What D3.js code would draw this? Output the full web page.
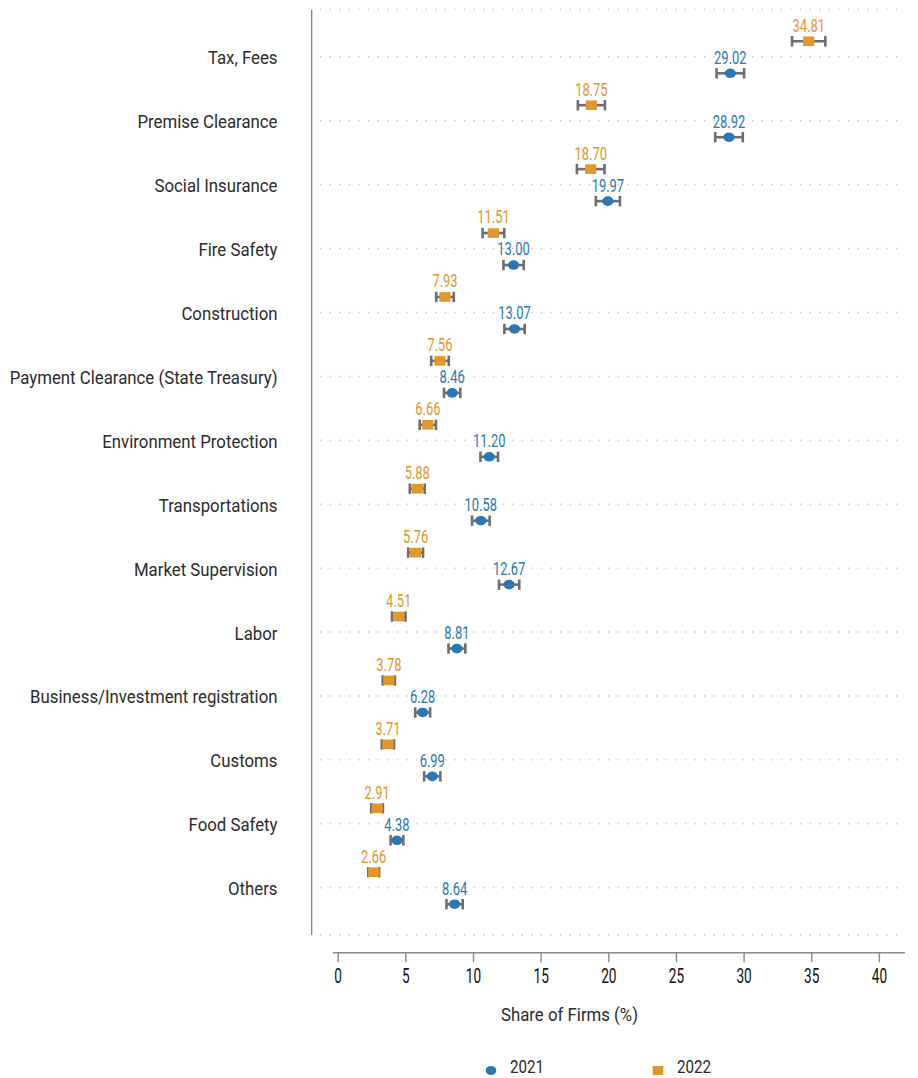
<!DOCTYPE html>
<html>
<head>
<meta charset="utf-8">
<script src="https://cdn.jsdelivr.net/npm/d3@7"></script>
<style>
  html, body { margin: 0; padding: 0; background: #fff; }
  svg { display: block; }
  text { font-family: Roboto, "Liberation Sans", sans-serif; }
</style>
</head>
<body>
<svg id="chart" width="918" height="1078"></svg>
<script>
// Categories of administrative procedures, top to bottom
const categories = [
  "Tax, Fees", "Premise Clearance", "Social Insurance", "Fire Safety",
  "Construction", "Payment Clearance (State Treasury)", "Environment Protection",
  "Transportations", "Market Supervision", "Labor",
  "Business/Investment registration", "Customs", "Food Safety", "Others"
];

// Share of firms (%) per year
const values2021 = [29.02, 28.92, 19.97, 13.00, 13.07, 8.46, 11.20, 10.58, 12.67, 8.81, 6.28, 6.99, 4.38, 8.64];
const values2022 = [34.81, 18.75, 18.70, 11.51, 7.93, 7.56, 6.66, 5.88, 5.76, 4.51, 3.78, 3.71, 2.91, 2.66];

// Half-width of the confidence interval (percentage points)
const moe2021 = [1.02, 1.02, 0.89, 0.75, 0.75, 0.60, 0.65, 0.65, 0.75, 0.62, 0.55, 0.60, 0.47, 0.60];
const moe2022 = [1.23, 1.00, 1.02, 0.80, 0.65, 0.65, 0.60, 0.55, 0.55, 0.50, 0.45, 0.45, 0.43, 0.40];

const xTicks = [0, 5, 10, 15, 20, 25, 30, 35, 40];
const years = ["2021", "2022"];

const colors = { "2021": "#2a78b3", "2022": "#e2972d" };
const errColor = "#6e6e6e";
const fontSize = 18.5;

const svg = d3.select("#chart");

// Horizontal squeeze giving the narrow typeface look
const probe = svg.append("text").attr("font-size", fontSize).text("Payment Clearance (State Treasury)");
const squeeze = 268 / probe.node().getComputedTextLength();
probe.remove();
const numSqueeze = 0.70;     // figures are narrower still
const legendSqueeze = 0.80;

function narrow(sel, tx, ty, s) {
  const k = s || squeeze;
  sel.attr("x", 0).attr("y", 0)
    .attr("transform", (d, i) => `translate(${typeof tx === "function" ? tx(d, i) : tx},${typeof ty === "function" ? ty(d, i) : ty}) scale(${k},1)`);
  return sel;
}

const x = d3.scaleLinear().domain([0, 40]).range([337.7, 878.9]);
const y = d3.scalePoint().domain(categories).range([9.5, 935]).padding(0.74);

const offsets = { "2021": 16.5, "2022": -15.5 };

// Left vertical axis line
svg.append("line")
  .attr("x1", 311.7).attr("x2", 311.7)
  .attr("y1", 9.5).attr("y2", 935)
  .attr("stroke", "#777").attr("stroke-width", 1.2);

// Dotted horizontal gridlines at each category plus the frame ends
const gridYs = [9.5].concat(categories.map(c => y(c))).concat([935]);
svg.append("g").selectAll("line").data(gridYs).join("line")
  .attr("x1", 320).attr("x2", 905)
  .attr("y1", d => d).attr("y2", d => d)
  .attr("stroke", "#c8c8c8").attr("stroke-width", 1.4)
  .attr("stroke-dasharray", "1.4,8.2");

// Category labels
svg.append("g").selectAll("text").data(categories).join("text")
  .attr("text-anchor", "end")
  .attr("font-size", fontSize)
  .attr("fill", "#2b2b2b")
  .text(d => d)
  .call(narrow, 277.5, d => y(d) + 7.5);

// Bottom x axis
const xAxis = d3.axisBottom(x).tickValues(xTicks).tickSize(10).tickSizeOuter(0).tickPadding(5);
const gx = svg.append("g").attr("transform", "translate(0,952.3)").call(xAxis);
gx.select(".domain").attr("stroke", "#8a8a8a").attr("stroke-width", 1.4)
  .attr("d", `M${x(0) - 5},0.5H905`);
gx.selectAll(".tick line").attr("stroke", "#8a8a8a").attr("stroke-width", 1.4);
gx.selectAll(".tick text")
  .attr("font-size", 19.5).attr("fill", "#111")
  .style("font-family", "Roboto, 'Liberation Sans', sans-serif")
  .attr("dy", null)
  .call(narrow, 0, 31, numSqueeze);

// Axis title
svg.append("text")
  .attr("text-anchor", "middle")
  .attr("font-size", fontSize).attr("fill", "#2b2b2b")
  .text("Share of Firms (%)")
  .call(narrow, 569.5, 1021);

// Build point records
const points = [];
categories.forEach((c, i) => {
  points.push({ cat: c, year: "2022", v: values2022[i], m: moe2022[i] });
  points.push({ cat: c, year: "2021", v: values2021[i], m: moe2021[i] });
});

const gp = svg.append("g");
const groups = gp.selectAll("g.pt").data(points).join("g")
  .attr("class", "pt")
  .attr("transform", d => `translate(0,${y(d.cat) + offsets[d.year]})`);

// Error bars
groups.append("line")
  .attr("x1", d => x(d.v - d.m)).attr("x2", d => x(d.v + d.m))
  .attr("y1", 0).attr("y2", 0)
  .attr("stroke", errColor).attr("stroke-width", 2.6);
groups.append("line")
  .attr("x1", d => x(d.v - d.m)).attr("x2", d => x(d.v - d.m))
  .attr("y1", -5.2).attr("y2", 5.2)
  .attr("stroke", errColor).attr("stroke-width", 2.6);
groups.append("line")
  .attr("x1", d => x(d.v + d.m)).attr("x2", d => x(d.v + d.m))
  .attr("y1", -5.2).attr("y2", 5.2)
  .attr("stroke", errColor).attr("stroke-width", 2.6);

// Markers
groups.filter(d => d.year === "2021").append("ellipse")
  .attr("cx", d => x(d.v)).attr("cy", 0)
  .attr("rx", 5.6).attr("ry", 4.8)
  .attr("fill", colors["2021"]);
groups.filter(d => d.year === "2022").append("rect")
  .attr("x", d => x(d.v) - 5.6).attr("y", -4.8)
  .attr("width", 11.2).attr("height", 9.6)
  .attr("fill", colors["2022"]);

// Value labels
groups.append("text")
  .attr("text-anchor", "middle")
  .attr("font-size", fontSize)
  .attr("fill", d => colors[d.year])
  .text(d => d.v.toFixed(2))
  .call(narrow, d => x(d.v), -9.6, numSqueeze);

// Legend
const legend = svg.append("g");
legend.append("ellipse").attr("cx", 491).attr("cy", 1070.5).attr("rx", 5.3).attr("ry", 4.6).attr("fill", colors["2021"]);
legend.append("text").attr("font-size", 19).attr("fill", "#2b2b2b").text(years[0]).call(narrow, 510, 1073, legendSqueeze);
legend.append("rect").attr("x", 652.7).attr("y", 1066).attr("width", 10.6).attr("height", 9).attr("fill", colors["2022"]);
legend.append("text").attr("font-size", 19).attr("fill", "#2b2b2b").text(years[1]).call(narrow, 677, 1073, legendSqueeze);
</script>
</body>
</html>
